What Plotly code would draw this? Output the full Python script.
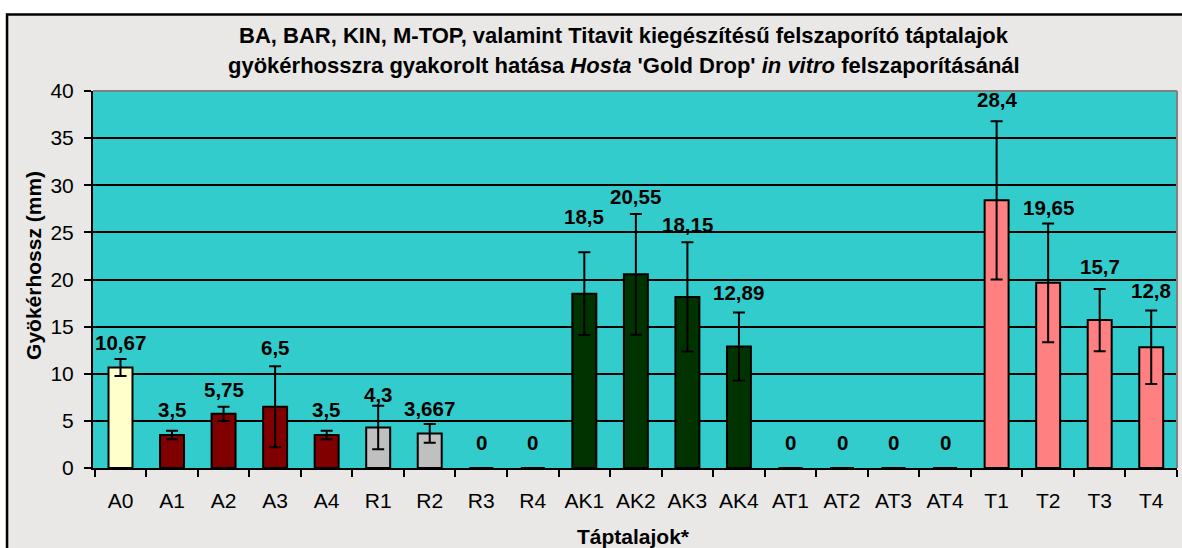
import plotly.graph_objects as go

# ---- data ----
categories = ["A0", "A1", "A2", "A3", "A4", "R1", "R2", "R3", "R4",
              "AK1", "AK2", "AK3", "AK4", "AT1", "AT2", "AT3", "AT4",
              "T1", "T2", "T3", "T4"]
values = [10.67, 3.5, 5.75, 6.5, 3.5, 4.3, 3.667, 0, 0,
          18.5, 20.55, 18.15, 12.89, 0, 0, 0, 0,
          28.4, 19.65, 15.7, 12.8]
errors = [0.9, 0.45, 0.75, 4.3, 0.45, 2.3, 1.0, 0, 0,
          4.4, 6.4, 5.8, 3.6, 0, 0, 0, 0,
          8.4, 6.3, 3.3, 3.9]
groups = ["ctrl", "A", "A", "A", "A", "R", "R", "R", "R",
          "AK", "AK", "AK", "AK", "AT", "AT", "AT", "AT",
          "T", "T", "T", "T"]
# heights (data units) where the value labels sit in the picture
label_heights = [13.3, 6.2, 8.3, 12.8, 6.2, 7.85, 6.35, 2.7, 2.7,
                 26.7, 28.8, 25.8, 18.6, 2.7, 2.7, 2.7, 2.7,
                 39.1, 27.6, 21.4, 18.8]
y_ticks = [0, 5, 10, 15, 20, 25, 30, 35, 40]

title_line1 = "BA, BAR, KIN, M-TOP, valamint Titavit kiegészítésű felszaporító táptalajok"
title_line2 = "gyökérhosszra gyakorolt hatása <i>Hosta</i> 'Gold Drop' <i>in vitro</i> felszaporításánál"
x_title = "Táptalajok*"
y_title = "Gyökérhossz (mm)"

# ---- styles ----
group_colors = {"ctrl": "#FFFFCC", "A": "#800000", "R": "#C0C0C0",
                "AK": "#003300", "AT": "#FF8080", "T": "#FF8080"}
FONT = "Liberation Sans, Arial, sans-serif"
PAPER_GRAY = "#E9E8E6"

labels = [f"{v:g}".replace(".", ",") for v in values]
colors = [group_colors[g] for g in groups]

fig = go.Figure()
fig.add_trace(go.Bar(
    x=categories, y=values,
    marker=dict(color=colors, line=dict(color="black", width=2)),
    error_y=dict(type="data", array=errors, visible=True,
                 color="black", thickness=2, width=6),
    hoverinfo="x+y",
))

annotations = []
for c, t, h in zip(categories, labels, label_heights):
    annotations.append(dict(x=c, y=h, xref="x", yref="y", text=f"<b>{t}</b>",
                            showarrow=False, yanchor="middle", xanchor="center",
                            font=dict(family=FONT, size=20.5, color="black")))

annotations += [
    dict(x=0.49, y=1.1475, xref="paper", yref="paper", text=f"<b>{title_line1}</b>",
         showarrow=False, xanchor="center", yanchor="middle",
         font=dict(family=FONT, size=22, color="black")),
    dict(x=0.49, y=1.068, xref="paper", yref="paper", text=f"<b>{title_line2}</b>",
         showarrow=False, xanchor="center", yanchor="middle",
         font=dict(family=FONT, size=22, color="black")),
    dict(x=0.499, y=-0.182, xref="paper", yref="paper", text=f"<b>{x_title}</b>",
         showarrow=False, xanchor="center", yanchor="middle",
         font=dict(family=FONT, size=21, color="black")),
    dict(x=-0.0544, y=0.536, xref="paper", yref="paper", text=f"<b>{y_title}</b>",
         showarrow=False, xanchor="center", yanchor="middle", textangle=-90,
         font=dict(family=FONT, size=21, color="black")),
]

shapes = [
    # white strips outside the chart area
    dict(type="rect", xref="paper", yref="paper", x0=-0.2, x1=1.2, y0=1.203, y1=1.4,
         fillcolor="white", line=dict(width=0), layer="below"),
    dict(type="rect", xref="paper", yref="paper", x0=-0.2, x1=-0.0793, y0=-0.4, y1=1.4,
         fillcolor="white", line=dict(width=0), layer="below"),
    # chart area border
    dict(type="rect", xref="paper", yref="paper", x0=-0.0793, x1=1.03, y0=-0.4, y1=1.203,
         fillcolor="rgba(0,0,0,0)", line=dict(color="black", width=2.5), layer="above"),
    # plot area border top/right (gray)
    dict(type="line", xref="paper", yref="paper", x0=0, x1=1, y0=1, y1=1,
         line=dict(color="#808080", width=2), layer="above"),
    dict(type="line", xref="paper", yref="paper", x0=1, x1=1, y0=0, y1=1,
         line=dict(color="#808080", width=2), layer="above"),
]

fig.update_layout(
    width=1182, height=548,
    margin=dict(l=93, r=5, t=91, b=80),
    paper_bgcolor=PAPER_GRAY,
    plot_bgcolor="#33CCCC",
    bargap=0.535,
    showlegend=False,
    annotations=annotations,
    shapes=shapes,
    font=dict(family=FONT, size=20, color="black"),
)
fig.update_xaxes(
    type="category", tickson="boundaries", ticks="outside", ticklen=7,
    tickcolor="black", tickwidth=2,
    showline=True, linecolor="black", linewidth=2,
    showgrid=False, ticklabelstandoff=13,
    tickfont=dict(family=FONT, size=21, color="black"),
)
fig.update_yaxes(
    range=[0, 40], tickvals=y_ticks, ticks="outside", ticklen=7,
    tickcolor="black", tickwidth=2,
    showline=True, linecolor="black", linewidth=2,
    showgrid=True, gridcolor="black", gridwidth=2, zeroline=False,
    ticklabelstandoff=6,
    tickfont=dict(family=FONT, size=21, color="black"),
)

fig.write_html("out.html", config={"displayModeBar": False},
               post_script="document.body.style.margin='0px';")
